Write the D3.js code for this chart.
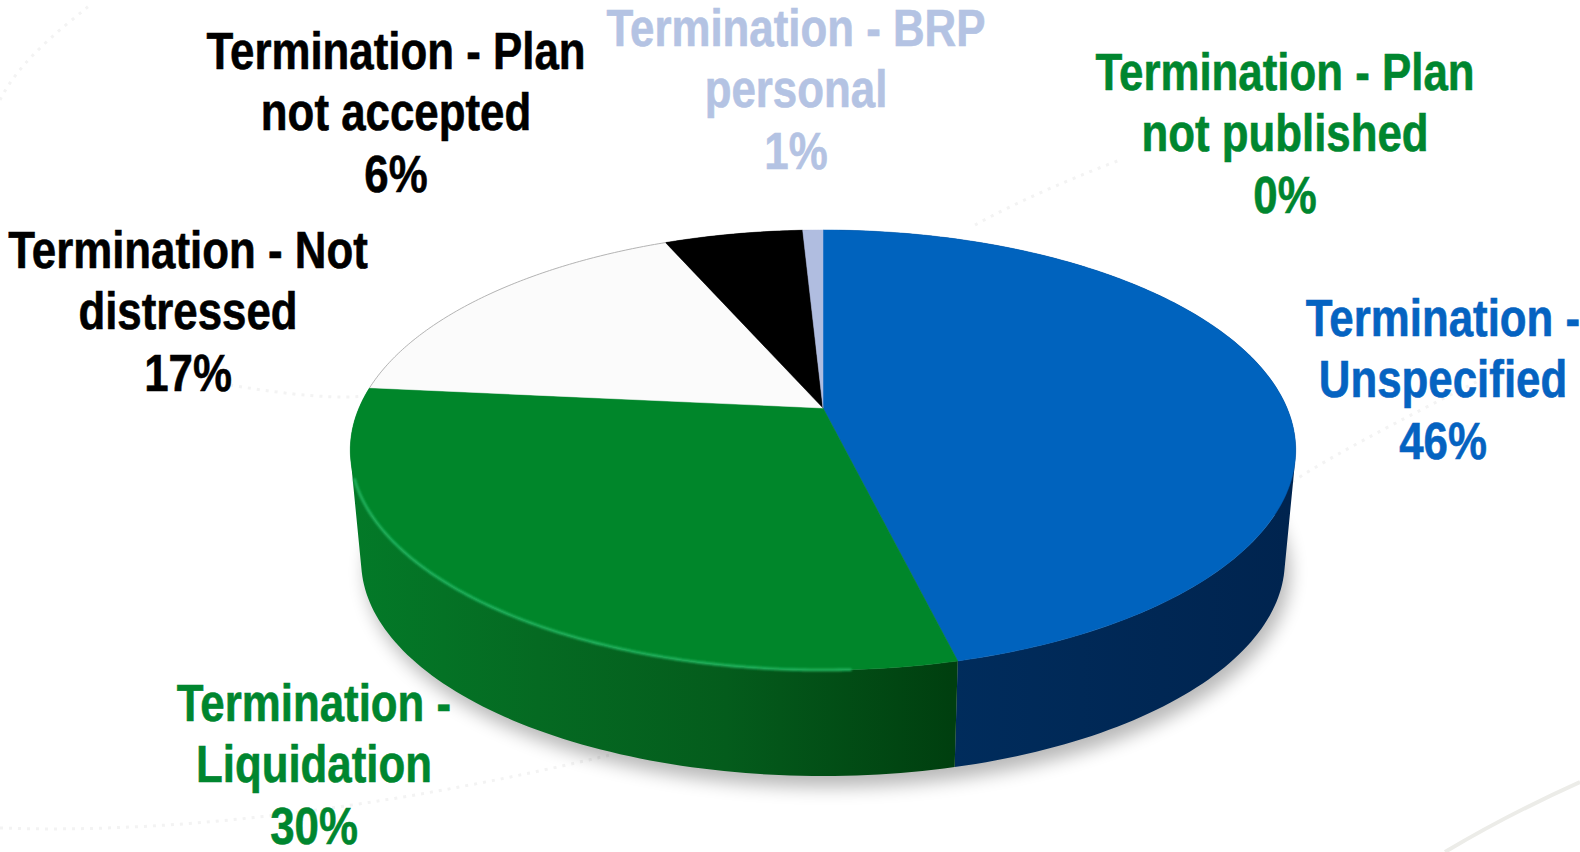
<!DOCTYPE html>
<html>
<head>
<meta charset="utf-8">
<title>Termination types</title>
<script src="https://cdn.jsdelivr.net/npm/d3@7"></script>
<style>
  html, body { margin: 0; background: #fff; overflow: hidden; }
  text { font-family: "Liberation Sans", Arial, sans-serif; font-weight: 700; }
</style>
</head>
<body>
<svg width="1580" height="852"></svg>
<script>
// values, labels are these rounded
const categories = [
  "Termination - Unspecified",
  "Termination - Liquidation",
  "Termination - Not distressed",
  "Termination - Plan not accepted",
  "Termination - BRP personal",
  "Termination - Plan not published",
];
const shares = [46.2, 30.35, 16.92, 5.7, 0.83, 0];

const labelLines = [
  ["Termination -", "Unspecified"],
  ["Termination -", "Liquidation"],
  ["Termination - Not", "distressed"],
  ["Termination - Plan", "not accepted"],
  ["Termination - BRP", "personal"],
  ["Termination - Plan", "not published"],
];

const topColors = ["#0063be", "#00862a", "#fbfbfb", "#000000", "#b0bde0", "#00862a"];
const labelColors = ["#0563c1", "#00862f", "#000000", "#000000", "#b4c3e3", "#00862f"];

// centre x and first baseline of each label
const labelX = [1443, 314, 188, 396, 796, 1285];
const labelY = [336, 721, 268, 69, 46, 90];

const svg = d3.select("svg");
const defs = svg.append("defs");

defs.append("filter").attr("id", "blur10")
  .attr("x", "-10%").attr("y", "-10%").attr("width", "120%").attr("height", "120%")
  .append("feGaussianBlur").attr("stdDeviation", 9);
defs.append("filter").attr("id", "blur1")
  .attr("x", "-10%").attr("y", "-10%").attr("width", "120%").attr("height", "120%")
  .append("feGaussianBlur").attr("stdDeviation", 1);

function sideGradient(id, stops) {
  const g = defs.append("linearGradient").attr("id", id)
    .attr("gradientUnits", "userSpaceOnUse")
    .attr("x1", 350).attr("x2", 1290).attr("y1", 0).attr("y2", 0);
  stops.forEach(s => g.append("stop").attr("offset", s[0]).attr("stop-color", s[1]));
}
sideGradient("sideGreen", [[0, "#037a28"], [0.2, "#056a22"], [0.4, "#045c1c"], [0.64, "#003f0f"], [1, "#003f0f"]]);
sideGradient("sideBlue", [[0, "#002c5c"], [0.64, "#002c5c"], [1, "#00244f"]]);
const sideFills = ["url(#sideBlue)", "url(#sideGreen)", "#ccc", "#000", "#8a94b0", "#045c1c"];

// faint background swooshes
const swooshes = [
  "M0,828 C200,835 420,800 610,755",
  "M1292,482 C1340,450 1440,400 1500,370",
  "M975,225 C1020,200 1080,175 1120,160",
  "M230,385 C290,395 340,400 372,395",
  "M0,100 C20,60 60,30 90,5",
  "M1445,852 C1490,825 1540,800 1580,782",
];
svg.append("g").selectAll("path").data(swooshes).join("path")
  .attr("d", d => d)
  .attr("fill", "none")
  .attr("stroke", (d, i) => i === 5 ? "#ecece8" : "#f3f3f3")
  .attr("stroke-width", (d, i) => i === 5 ? 4 : 3)
  .attr("stroke-dasharray", (d, i) => i === 5 ? null : "3 6");

// pie in perspective: unit circle through a homography
const apex = { x: 823, y: 408 };
const floorApex = { x: 823, y: 520 };
const floorScale = 0.977;
const R = 464, A = 212, k = -0.191;

function project(theta, floor) {
  const u = Math.sin(theta), v = -Math.cos(theta);
  const d = 1 + k * v;
  const X = R * u / d, Y = A * v / d;
  return floor
    ? [floorApex.x + floorScale * X, floorApex.y + floorScale * Y]
    : [apex.x + X, apex.y + Y];
}

const pie = d3.pie().sort(null).value(d => d);
const slices = pie(shares).filter(d => d.endAngle > d.startAngle);

function arcAngles(a0, a1, step) {
  const n = Math.max(2, Math.ceil((a1 - a0) / step));
  return d3.range(n + 1).map(i => a0 + (a1 - a0) * i / n);
}

const line = d3.line();

// shadow on the ground
const ring = arcAngles(0, 2 * Math.PI, 0.01);
svg.append("path")
  .attr("d", line(ring.map(t => project(t, true))) + "Z")
  .attr("transform", "translate(5,11)")
  .attr("fill", "#000")
  .attr("opacity", 0.28)
  .attr("filter", "url(#blur10)");

// side wall: quads in one path per slice, all wound the same way so nothing cancels
function wallPath(s) {
  const ts = arcAngles(s.startAngle, s.endAngle, 0.02);
  return d3.pairs(ts).map(p => {
    const quad = [project(p[0], false), project(p[1], false), project(p[1], true), project(p[0], true)];
    if (d3.polygonArea(quad) < 0) quad.reverse();
    return line(quad) + "Z";
  }).join("");
}
svg.append("g").selectAll("path").data(slices).join("path")
  .attr("d", wallPath)
  .attr("fill", d => sideFills[d.index]);

// top face
svg.append("g").selectAll("path").data(slices).join("path")
  .attr("d", d => {
    const pts = arcAngles(d.startAngle, d.endAngle, 0.01).map(t => project(t, false));
    return line([[apex.x, apex.y]].concat(pts)) + "Z";
  })
  .attr("fill", d => topColors[d.index])
  .attr("stroke", d => topColors[d.index])
  .attr("stroke-width", 0.5);

// thin grey rim on the white slice
const white = slices[2];
svg.append("path")
  .attr("d", line(arcAngles(white.startAngle, white.endAngle, 0.01).map(t => project(t, false))))
  .attr("fill", "none").attr("stroke", "#b5b5b5").attr("stroke-width", 1);

// light rim along the front of the green slice
const green = slices[1];
const rimSpan = green.endAngle - green.startAngle;
svg.append("path")
  .attr("d", line(arcAngles(green.startAngle + rimSpan * 0.1, green.startAngle + rimSpan * 0.78, 0.01).map(t => project(t, false))))
  .attr("fill", "none").attr("stroke", "#22b560").attr("stroke-width", 2.6)
  .attr("stroke-linecap", "round")
  .attr("filter", "url(#blur1)");

// labels, squeezed to the narrow bold of the original
const lineGap = 61.5;
const squeeze = 0.843;
const labels = svg.append("g").selectAll("text").data(categories).join("text")
  .attr("text-anchor", "middle")
  .attr("font-size", 52)
  .attr("fill", (d, i) => labelColors[i])
  .attr("stroke", (d, i) => labelColors[i])
  .attr("stroke-width", 0.6)
  .attr("transform", (d, i) => `translate(${labelX[i]},${labelY[i]}) scale(${squeeze},1)`);

labels.each(function (d, i) {
  const lines = labelLines[i].concat([d3.format(".0f")(shares[i]) + "%"]);
  d3.select(this).selectAll("tspan").data(lines).join("tspan")
    .attr("x", 0)
    .attr("y", (l, j) => j * lineGap)
    .text(l => l);
});
</script>
</body>
</html>
